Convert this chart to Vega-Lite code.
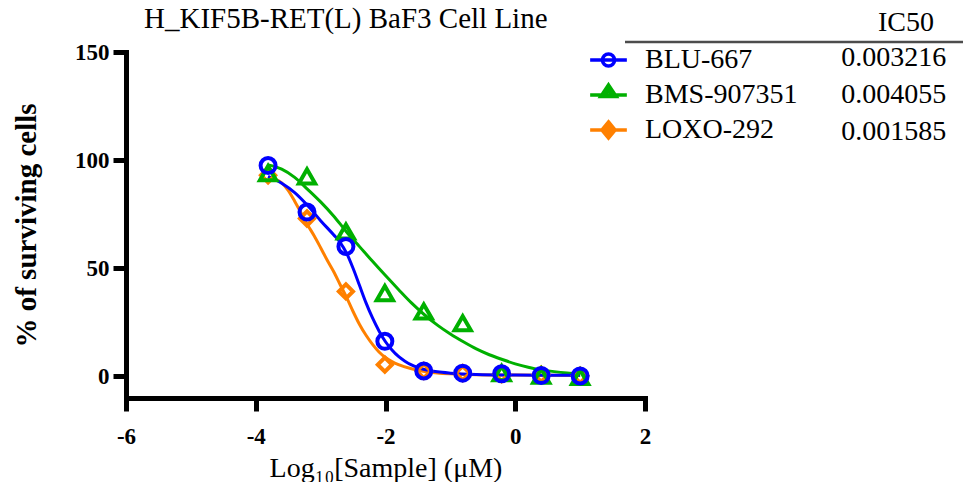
{
  "$schema": "https://vega.github.io/schema/vega-lite/v6.json",
  "width": 519,
  "height": 346,
  "padding": {"left": 12, "top": 4, "right": 0, "bottom": 0},
  "background": "white",
  "title": {"text": "H_KIF5B-RET(L) BaF3 Cell Line", "anchor": "start", "frame": "group", "dx": 18, "offset": -25, "font": "Liberation Serif", "fontSize": 29, "fontWeight": "normal", "color": "black"},
  "config": {
    "view": {"stroke": null},
    "title": {"font": "Liberation Serif"},
    "axis": {"grid": false, "domainColor": "black", "tickColor": "black", "labelColor": "black", "titleColor": "black", "domainCap": "square"},
    "legend": {"padding": 0}
  },
  "datasets": {
    "points": [
      {"drug": "LOXO-292", "x": -3.81, "y": 93.0},
      {"drug": "LOXO-292", "x": -3.21, "y": 73.0},
      {"drug": "LOXO-292", "x": -2.61, "y": 39.3},
      {"drug": "LOXO-292", "x": -2.01, "y": 5.4},
      {"drug": "LOXO-292", "x": -1.41, "y": 2.5},
      {"drug": "LOXO-292", "x": -0.81, "y": 1.5},
      {"drug": "LOXO-292", "x": -0.21, "y": 1.0},
      {"drug": "LOXO-292", "x": 0.40, "y": 0.8},
      {"drug": "LOXO-292", "x": 1.00, "y": 0.3},
      {"drug": "BMS-907351", "x": -3.81, "y": 94.0},
      {"drug": "BMS-907351", "x": -3.21, "y": 92.5},
      {"drug": "BMS-907351", "x": -2.61, "y": 67.0},
      {"drug": "BMS-907351", "x": -2.01, "y": 38.5},
      {"drug": "BMS-907351", "x": -1.41, "y": 30.0},
      {"drug": "BMS-907351", "x": -0.81, "y": 24.6},
      {"drug": "BMS-907351", "x": -0.21, "y": 1.5},
      {"drug": "BMS-907351", "x": 0.40, "y": 0.3},
      {"drug": "BMS-907351", "x": 1.00, "y": -0.3},
      {"drug": "BLU-667", "x": -3.81, "y": 97.5},
      {"drug": "BLU-667", "x": -3.21, "y": 76.0},
      {"drug": "BLU-667", "x": -2.61, "y": 60.1},
      {"drug": "BLU-667", "x": -2.01, "y": 16.2},
      {"drug": "BLU-667", "x": -1.41, "y": 2.5},
      {"drug": "BLU-667", "x": -0.81, "y": 1.5},
      {"drug": "BLU-667", "x": -0.21, "y": 1.2},
      {"drug": "BLU-667", "x": 0.40, "y": 0.4},
      {"drug": "BLU-667", "x": 1.00, "y": 0.2}
    ],
    "curves": [
      {"drug": "LOXO-292", "x": -3.81, "y": 92.0},
      {"drug": "LOXO-292", "x": -3.7, "y": 91.2},
      {"drug": "LOXO-292", "x": -3.6, "y": 89.5},
      {"drug": "LOXO-292", "x": -3.5, "y": 86.0},
      {"drug": "LOXO-292", "x": -3.4, "y": 81.0},
      {"drug": "LOXO-292", "x": -3.3, "y": 75.5},
      {"drug": "LOXO-292", "x": -3.2, "y": 70.0},
      {"drug": "LOXO-292", "x": -3.1, "y": 65.0},
      {"drug": "LOXO-292", "x": -3.0, "y": 59.5},
      {"drug": "LOXO-292", "x": -2.9, "y": 53.8},
      {"drug": "LOXO-292", "x": -2.8, "y": 48.5},
      {"drug": "LOXO-292", "x": -2.7, "y": 42.5},
      {"drug": "LOXO-292", "x": -2.6, "y": 36.5},
      {"drug": "LOXO-292", "x": -2.5, "y": 30.0},
      {"drug": "LOXO-292", "x": -2.4, "y": 24.0},
      {"drug": "LOXO-292", "x": -2.3, "y": 19.0},
      {"drug": "LOXO-292", "x": -2.2, "y": 14.8},
      {"drug": "LOXO-292", "x": -2.1, "y": 11.3},
      {"drug": "LOXO-292", "x": -2.0, "y": 8.7},
      {"drug": "LOXO-292", "x": -1.9, "y": 6.8},
      {"drug": "LOXO-292", "x": -1.8, "y": 5.4},
      {"drug": "LOXO-292", "x": -1.6, "y": 3.5},
      {"drug": "LOXO-292", "x": -1.4, "y": 2.3},
      {"drug": "LOXO-292", "x": -1.2, "y": 1.6},
      {"drug": "LOXO-292", "x": -1.0, "y": 1.2},
      {"drug": "LOXO-292", "x": -0.6, "y": 0.8},
      {"drug": "LOXO-292", "x": 0.0, "y": 0.6},
      {"drug": "LOXO-292", "x": 1.0, "y": 0.4},
      {"drug": "BMS-907351", "x": -3.81, "y": 97.8},
      {"drug": "BMS-907351", "x": -3.6, "y": 95.8},
      {"drug": "BMS-907351", "x": -3.4, "y": 92.0},
      {"drug": "BMS-907351", "x": -3.2, "y": 86.5},
      {"drug": "BMS-907351", "x": -3.0, "y": 80.7},
      {"drug": "BMS-907351", "x": -2.8, "y": 74.2},
      {"drug": "BMS-907351", "x": -2.6, "y": 66.8},
      {"drug": "BMS-907351", "x": -2.4, "y": 60.0},
      {"drug": "BMS-907351", "x": -2.2, "y": 53.2},
      {"drug": "BMS-907351", "x": -2.0, "y": 46.6},
      {"drug": "BMS-907351", "x": -1.8, "y": 40.2},
      {"drug": "BMS-907351", "x": -1.6, "y": 34.0},
      {"drug": "BMS-907351", "x": -1.4, "y": 28.5},
      {"drug": "BMS-907351", "x": -1.2, "y": 23.7},
      {"drug": "BMS-907351", "x": -1.0, "y": 19.6},
      {"drug": "BMS-907351", "x": -0.8, "y": 16.0},
      {"drug": "BMS-907351", "x": -0.6, "y": 12.7},
      {"drug": "BMS-907351", "x": -0.4, "y": 10.0},
      {"drug": "BMS-907351", "x": -0.2, "y": 7.8},
      {"drug": "BMS-907351", "x": 0.0, "y": 5.8},
      {"drug": "BMS-907351", "x": 0.2, "y": 4.2},
      {"drug": "BMS-907351", "x": 0.4, "y": 3.0},
      {"drug": "BMS-907351", "x": 0.6, "y": 2.2},
      {"drug": "BMS-907351", "x": 0.8, "y": 1.6},
      {"drug": "BMS-907351", "x": 1.0, "y": 1.2},
      {"drug": "BLU-667", "x": -3.81, "y": 92.5},
      {"drug": "BLU-667", "x": -3.6, "y": 89.3},
      {"drug": "BLU-667", "x": -3.4, "y": 85.0},
      {"drug": "BLU-667", "x": -3.2, "y": 79.0},
      {"drug": "BLU-667", "x": -3.0, "y": 72.0},
      {"drug": "BLU-667", "x": -2.8, "y": 65.5},
      {"drug": "BLU-667", "x": -2.7, "y": 62.0},
      {"drug": "BLU-667", "x": -2.6, "y": 57.0},
      {"drug": "BLU-667", "x": -2.5, "y": 50.0},
      {"drug": "BLU-667", "x": -2.4, "y": 42.0},
      {"drug": "BLU-667", "x": -2.3, "y": 34.0},
      {"drug": "BLU-667", "x": -2.2, "y": 27.0},
      {"drug": "BLU-667", "x": -2.1, "y": 21.0},
      {"drug": "BLU-667", "x": -2.0, "y": 16.0},
      {"drug": "BLU-667", "x": -1.9, "y": 12.2},
      {"drug": "BLU-667", "x": -1.8, "y": 9.2},
      {"drug": "BLU-667", "x": -1.7, "y": 7.0},
      {"drug": "BLU-667", "x": -1.6, "y": 5.3},
      {"drug": "BLU-667", "x": -1.5, "y": 4.1},
      {"drug": "BLU-667", "x": -1.4, "y": 3.2},
      {"drug": "BLU-667", "x": -1.2, "y": 2.1},
      {"drug": "BLU-667", "x": -1.0, "y": 1.5},
      {"drug": "BLU-667", "x": -0.6, "y": 0.9},
      {"drug": "BLU-667", "x": 0.0, "y": 0.6},
      {"drug": "BLU-667", "x": 0.5, "y": 0.5},
      {"drug": "BLU-667", "x": 1.0, "y": 0.5}
    ],
    "ic50": [
      {"drug": "BLU-667", "ic50": "0.003216", "v": 0, "hdr": "IC50"},
      {"drug": "BMS-907351", "ic50": "0.004055", "v": 0.5, "hdr": "IC50"},
      {"drug": "LOXO-292", "ic50": "0.001585", "v": 1, "hdr": "IC50"}
    ]
  },
  "encoding": {
    "x": {
      "field": "x", "type": "quantitative",
      "scale": {"domain": [-6, 2], "nice": false, "zero": false},
      "axis": {
        "values": [-6, -4, -2, 0, 2], "labelExpr": "'' + datum.value",
        "title": "Log₁₀[Sample] (μM)", "titleFont": "Liberation Serif", "titleFontSize": 28, "titleFontWeight": "normal", "titlePadding": 6,
        "labelFont": "Liberation Serif", "labelFontSize": 23, "labelFontWeight": "bold", "labelPadding": 14,
        "tickSize": 13, "tickWidth": 5, "domainWidth": 5, "labelFlush": false, "labelOverlap": false
      }
    },
    "y": {
      "field": "y", "type": "quantitative",
      "scale": {"domain": [-10, 150], "nice": false, "zero": false},
      "axis": {
        "values": [0, 50, 100, 150], "labelExpr": "'' + datum.value",
        "title": "% of surviving cells", "titleFont": "Liberation Serif", "titleFontSize": 29, "titleFontWeight": "bold", "titlePadding": 33,
        "labelFont": "Liberation Serif", "labelFontSize": 23, "labelFontWeight": "bold", "labelPadding": 4,
        "tickSize": 13, "tickWidth": 5, "domainWidth": 5, "labelFlush": false, "labelOverlap": false
      }
    }
  },
  "layer": [
    {
      "data": {"values": [{}]},
      "mark": {"type": "rule", "color": "black", "strokeWidth": 2.5, "strokeDash": [2.5, 7.8], "strokeCap": "butt"},
      "encoding": {"x": {"datum": -5.86}, "x2": {"datum": 1.85}, "y": {"datum": 0}}
    },
    {
      "data": {"name": "curves"},
      "mark": {"type": "line", "interpolate": "monotone", "strokeWidth": 3},
      "encoding": {
        "color": {
          "field": "drug", "type": "nominal",
          "scale": {"domain": ["BLU-667", "BMS-907351", "LOXO-292"], "range": ["#0000ff", "#00b000", "#ff8000"]}
        },
        "detail": {"field": "drug"}
      }
    },
    {
      "data": {"name": "points"},
      "transform": [{"filter": "datum.drug === 'LOXO-292'"}],
      "mark": {"type": "point", "shape": "diamond", "size": 200, "filled": false, "strokeWidth": 4, "opacity": 1},
      "encoding": {
        "color": {"field": "drug", "type": "nominal", "scale": {"domain": ["BLU-667", "BMS-907351", "LOXO-292"], "range": ["#0000ff", "#00b000", "#ff8000"]}}
      }
    },
    {
      "data": {"name": "points"},
      "transform": [{"filter": "datum.drug === 'BMS-907351'"}],
      "mark": {"type": "point", "shape": "triangle-up", "size": 265, "filled": false, "strokeWidth": 4, "opacity": 1},
      "encoding": {
        "color": {"field": "drug", "type": "nominal", "scale": {"domain": ["BLU-667", "BMS-907351", "LOXO-292"], "range": ["#0000ff", "#00b000", "#ff8000"]}}
      }
    },
    {
      "data": {"name": "points"},
      "transform": [{"filter": "datum.drug === 'BLU-667'"}],
      "mark": {"type": "point", "shape": "circle", "size": 225, "filled": false, "strokeWidth": 4, "opacity": 1},
      "encoding": {
        "color": {"field": "drug", "type": "nominal", "scale": {"domain": ["BLU-667", "BMS-907351", "LOXO-292"], "range": ["#0000ff", "#00b000", "#ff8000"]}}
      }
    },
    {
      "data": {"name": "ic50"},
      "mark": {"type": "point", "filled": false, "clip": true},
      "encoding": {
        "x": {"datum": 3.5},
        "y": {"datum": 50},
        "color": {
          "field": "drug", "type": "nominal",
          "scale": {"domain": ["BLU-667", "BMS-907351", "LOXO-292"], "range": ["#0000ff", "#00b000", "#ff8000"]},
          "legend": {
            "orient": "none", "legendX": 462, "legendY": -12.5, "title": null,
            "symbolSize": 1347, "symbolStrokeWidth": 3.5, "symbolFillColor": "transparent",
            "labelFont": "Liberation Serif", "labelFontSize": 28, "labelColor": "black", "labelOffset": 16,
            "rowPadding": -0.7, "padding": 0
          }
        },
        "shape": {
          "field": "drug", "type": "nominal",
          "scale": {"domain": ["BLU-667", "BMS-907351", "LOXO-292"], "range": [
            "M-1,0H1M0.33,0A0.33,0.33,0,1,1,-0.33,0A0.33,0.33,0,1,1,0.33,0",
            "M-1,0H1M0,-0.55L0.42,0.08L-0.42,0.08ZM0,-0.3L0.2,0.03L-0.2,0.03Z",
            "M-1,0H1M0,-0.44L0.36,0L0,0.44L-0.36,0ZM0,-0.2L0.16,0L0,0.2L-0.16,0Z"
          ]}
        }
      }
    },
    {
      "data": {"name": "ic50"},
      "mark": {"type": "point", "size": 0, "strokeWidth": 0, "filled": true},
      "encoding": {
        "x": {"datum": 0},
        "y": {"datum": 50},
        "stroke": {
          "field": "ic50", "type": "nominal",
          "scale": {"domain": ["0.003216", "0.004055", "0.001585"], "range": ["black", "black", "black"]},
          "legend": {
            "orient": "none", "legendX": 662.3, "legendY": -12.35,
            "title": null,
            "symbolSize": 1347, "symbolOpacity": 0, "symbolStrokeWidth": 0,
            "labelFont": "Liberation Serif", "labelFontSize": 28, "labelColor": "black", "labelOffset": 16,
            "rowPadding": -0.7, "padding": 0
          }
        },
        "strokeDash": {
          "field": "hdr", "type": "nominal",
          "scale": {"range": [[1, 0]]},
          "legend": {
            "orient": "none", "legendX": 752, "legendY": -43.5,
            "title": "IC50", "titleFont": "Liberation Serif", "titleFontSize": 28, "titleFontWeight": "normal", "titleColor": "black",
            "titleAnchor": "start", "titlePadding": 0,
            "symbolSize": 1, "symbolOpacity": 0, "symbolStrokeWidth": 0,
            "labelExpr": "''", "labelOpacity": 0, "labelFontSize": 1, "padding": 0
          }
        },
        "fill": {
          "field": "v", "type": "quantitative",
          "scale": {"domain": [0, 1], "range": ["black", "black"]},
          "legend": {
            "orient": "none", "legendX": 499, "legendY": -11.25, "direction": "horizontal",
            "title": null, "gradientLength": 338, "gradientThickness": 2.5, "gradientStrokeWidth": 0,
            "labelExpr": "''", "labelOpacity": 0, "padding": 0
          }
        }
      }
    }
  ]
}
